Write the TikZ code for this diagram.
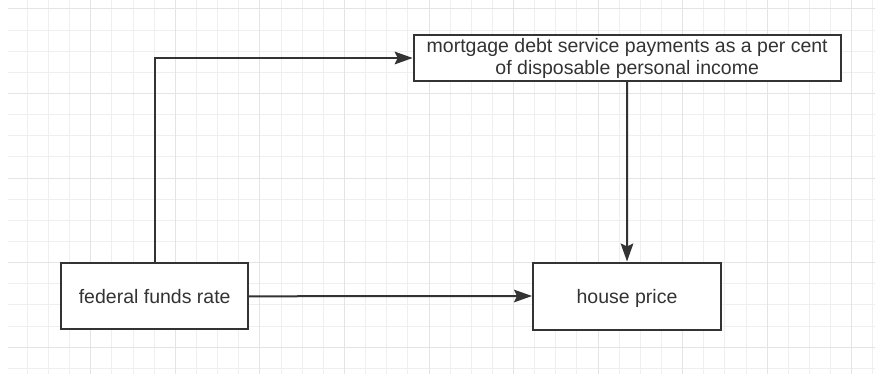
\documentclass[tikz,border=0pt]{standalone}
\usepackage{fontspec}
\setmainfont{Liberation Sans}
\usetikzlibrary{arrows.meta}
\definecolor{ink}{HTML}{333333}
\definecolor{gridminor}{HTML}{EFEFEF}
\definecolor{gridmajor}{HTML}{E4E4E4}
\begin{document}
\begin{tikzpicture}[x=1pt,y=-1pt,
  box/.style={draw=ink, line width=2pt, fill=white, inner sep=0pt, align=center, text=ink,
    font=\fontsize{19.5}{22.5}\selectfont},
  link/.style={draw=ink, line width=2pt, -{Stealth[length=18pt,width=12.6pt,inset=3pt]}},
  minorline/.style={draw=gridminor, line width=1pt},
  majorline/.style={draw=gridmajor, line width=1pt}]
\useasboundingbox (0,0) rectangle (875,374);
\fill[white] (0,0) rectangle (875,374);
% grid
\foreach \k in {1,...,41} {
  \pgfmathsetmacro\xx{6.2+21.14*\k}
  \draw[minorline] (\xx,0) -- (\xx,374);
}
\foreach \k in {0,...,17} {
  \pgfmathsetmacro\yy{9+21.14*\k}
  \draw[minorline] (8,\yy) -- (875,\yy);
}
\foreach \k in {4,8,...,40} {
  \pgfmathsetmacro\xx{6.2+21.14*\k}
  \draw[majorline] (\xx,0) -- (\xx,374);
}
\foreach \k in {0,4,...,16} {
  \pgfmathsetmacro\yy{9+21.14*\k}
  \draw[majorline] (8,\yy) -- (875,\yy);
}
% nodes
\node[box, minimum width=427pt, minimum height=45.4pt] (mort) at (627.2,58)
  {\raisebox{-0.5pt}{mortgage debt service payments as a per cent}\\of disposable personal income};
\node[box, minimum width=187pt, minimum height=66pt] (fed) at (154.7,296.3) {federal funds rate};
\node[box, minimum width=188pt, minimum height=67pt, text depth=0pt] (house) at (627,296) {house price};
% connectors
\draw[link] (fed.north) |- (mort.west);
\draw[link] (mort.south) -- (house.north);
\draw[link] (fed.east) -- (house.west);
\end{tikzpicture}
\end{document}
